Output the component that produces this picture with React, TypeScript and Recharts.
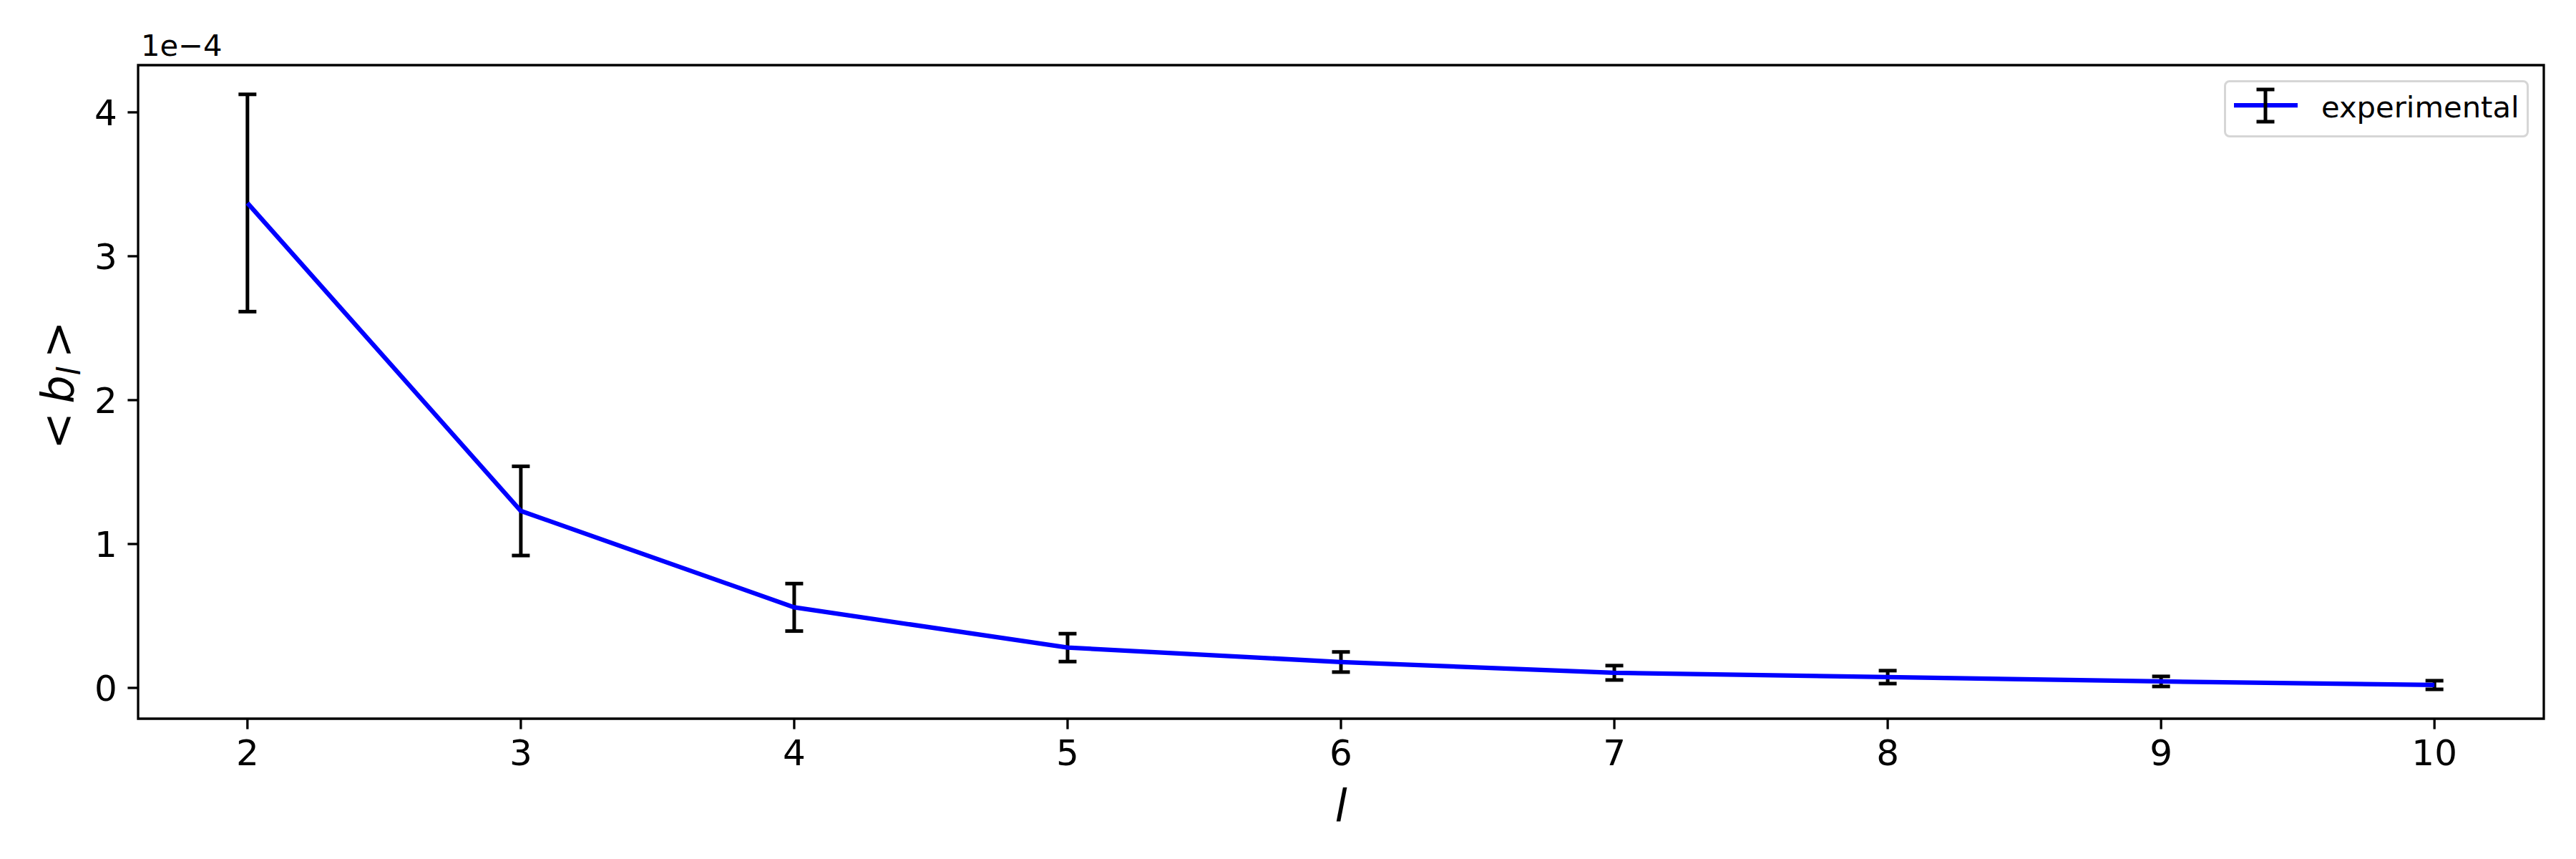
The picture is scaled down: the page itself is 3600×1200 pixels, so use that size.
import { LineChart, Line, XAxis, YAxis, ErrorBar, ReferenceArea, Legend } from "recharts";

// harmonic degree l
const degrees = [2, 3, 4, 5, 6, 7, 8, 9, 10];
// mean <b_l>, in units of 1e-4
const meanB = [3.37, 1.23, 0.56, 0.28, 0.18, 0.105, 0.075, 0.045, 0.02];
// error bar half-height, in units of 1e-4
const errB = [0.755, 0.31, 0.165, 0.097, 0.07, 0.05, 0.045, 0.035, 0.03];
const xTicks = [2, 3, 4, 5, 6, 7, 8, 9, 10];
const yTicks = [0, 1, 2, 3, 4];

const data = degrees.map((l, i) => ({ l, b: meanB[i], err: errB[i] }));

const FONT = "DejaVu Sans";
const X_DOMAIN: [number, number] = [1.6, 10.4];
const Y_DOMAIN: [number, number] = [-0.214, 4.328];
const Y_AXIS_W = 150;
const X_AXIS_H = 100;

const YTitle = () => (
  <g>
    <text
      x={102}
      y={538}
      transform="rotate(-90, 102, 538)"
      textAnchor="middle"
      fontSize={62}
      fontFamily={FONT}
      fill="#000"
    >
      <tspan>{"<"}</tspan>
      <tspan dx={12} fontStyle="italic">b</tspan>
      <tspan fontStyle="italic" fontSize={44} dy={10}>l</tspan>
      <tspan dx={12} dy={-10}>{">"}</tspan>
    </text>
    <text x={197} y={78} fontSize={41.7} fontFamily={FONT} fill="#000">
      1e−4
    </text>
  </g>
);

const XTitle = () => (
  <text x={1874} y={1147} textAnchor="middle" fontSize={62} fontStyle="italic" fontFamily={FONT} fill="#000">
    l
  </text>
);

const LegendBox = () => (
  <div
    style={{
      boxSizing: "border-box",
      width: 426,
      height: 80,
      border: "3px solid #d6d6d6",
      borderRadius: 8,
      background: "rgba(255,255,255,0.8)",
    }}
  >
    <svg width={420} height={74} style={{ display: "block" }}>
      <line x1={11} y1={32} x2={100} y2={32} stroke="#0000ff" strokeWidth={6.25} />
      <line x1={55} y1={10} x2={55} y2={55} stroke="#000" strokeWidth={5} />
      <line x1={42.5} y1={10} x2={67.5} y2={10} stroke="#000" strokeWidth={5} />
      <line x1={42.5} y1={55} x2={67.5} y2={55} stroke="#000" strokeWidth={5} />
      <text x={133} y={49} fontSize={41.7} fontFamily={FONT} fill="#000">
        experimental
      </text>
    </svg>
  </div>
);

export default function App() {
  return (
    <div style={{ position: "absolute", left: 0, top: 0, width: 3600, height: 1200, background: "#fff", fontFamily: FONT }}>
      <LineChart
        width={3600}
        height={1200}
        data={data}
        margin={{ top: 91, right: 45, left: 193 - Y_AXIS_W, bottom: 196 - X_AXIS_H }}
      >
        <XAxis
          type="number"
          dataKey="l"
          domain={X_DOMAIN}
          ticks={xTicks}
          allowDataOverflow
          height={X_AXIS_H}
          axisLine={false}
          tickSize={14.6}
          tickMargin={14.6}
          tickLine={{ stroke: "#000", strokeWidth: 3.3 }}
          tick={{ fill: "#000", fontSize: 50, fontFamily: FONT }}
          label={<XTitle />}
        />
        <YAxis
          type="number"
          domain={Y_DOMAIN}
          ticks={yTicks}
          allowDataOverflow
          width={Y_AXIS_W}
          axisLine={false}
          tickSize={14.6}
          tickMargin={14.6}
          tickLine={{ stroke: "#000", strokeWidth: 3.3 }}
          tick={{ fill: "#000", fontSize: 50, fontFamily: FONT }}
          label={<YTitle />}
        />
        <ReferenceArea
          x1={X_DOMAIN[0]}
          x2={X_DOMAIN[1]}
          y1={Y_DOMAIN[0]}
          y2={Y_DOMAIN[1]}
          fill="none"
          stroke="#000"
          strokeWidth={3.3}
          ifOverflow="visible"
        />
        <Line
          type="linear"
          dataKey="b"
          stroke="#0000ff"
          strokeWidth={6.25}
          dot={false}
          activeDot={false}
          isAnimationActive={false}
        >
          <ErrorBar dataKey="err" direction="y" width={12.5} strokeWidth={5} stroke="#000" isAnimationActive={false} />
        </Line>
        <Legend
          layout="vertical"
          align="center"
          verticalAlign="middle"
          content={<LegendBox />}
          wrapperStyle={{ left: 3108, top: 112, right: "auto", bottom: "auto", width: "auto" }}
        />
      </LineChart>
    </div>
  );
}
